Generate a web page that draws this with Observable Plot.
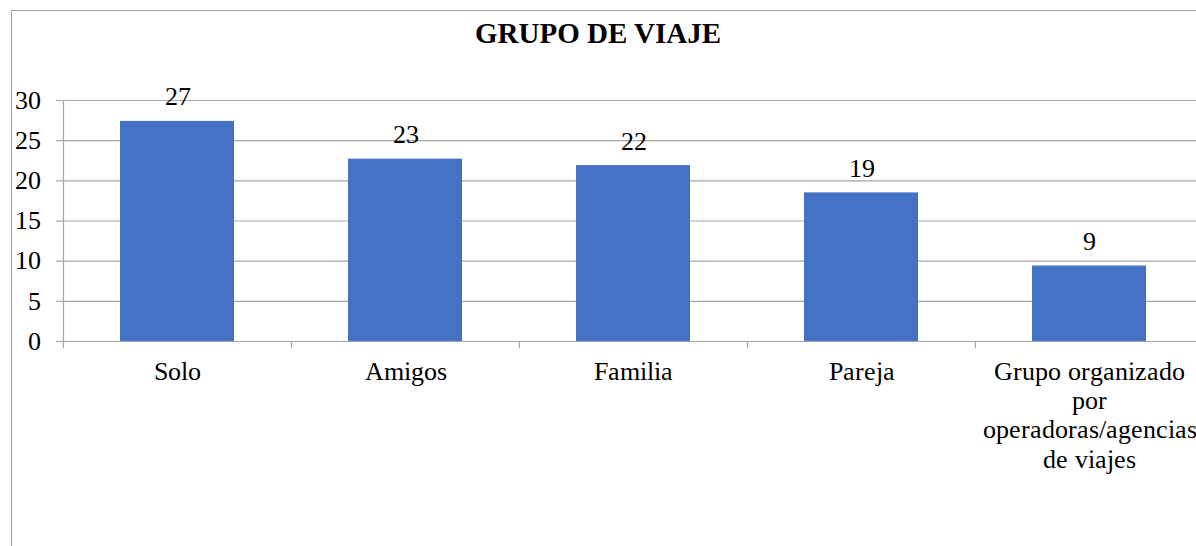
<!DOCTYPE html>
<html>
<head>
<meta charset="utf-8">
<script src="https://cdn.jsdelivr.net/npm/d3@7"></script>
<script src="https://cdn.jsdelivr.net/npm/@observablehq/plot@0.6"></script>
<style>
  @font-face { font-family: "ChartSerif"; src: local("Liberation Serif"), local("LiberationSerif"), local("Liberation Serif Regular"), local("LiberationSerif-Regular"); font-weight: normal; font-style: normal; }
  html, body { margin: 0; padding: 0; background: #fff; overflow: hidden; }
  #wrap { position: relative; width: 1196px; height: 546px; overflow: hidden; background: #fff; }
  #chart { position: absolute; left: 0; top: 0; font-family: "ChartSerif", "Liberation Serif", serif; }
  #chart svg text, #chart svg tspan { font-family: "ChartSerif", "Liberation Serif", serif !important; }
  #frame { position: absolute; left: 11px; top: 10px; width: 1400px; height: 800px;
           border-top: 1.5px solid #a0a0a0; border-left: 1.5px solid #a0a0a0; pointer-events: none; }
  #title { position: absolute; left: 0; top: 19px; width: 1196px; text-align: center;
           font-family: "Liberation Serif", serif; font-weight: bold;
           font-size: 29px; line-height: 1; color: #000; }
</style>
</head>
<body>
<div id="wrap">
  <div id="chart"></div>
  <div id="frame"></div>
  <div id="title">GRUPO DE VIAJE</div>
</div>
<script>
const categories = ["Solo", "Amigos", "Familia", "Pareja", "Grupo organizado\npor\noperadoras/agencias\nde viajes"];
const values = [27.4, 22.7, 21.9, 18.5, 9.4];
const valueLabels = ["27", "23", "22", "19", "9"];
const yTicks = [0, 5, 10, 15, 20, 25, 30];

const rows = categories.map((c, i) => ({grupo: c, valor: values[i], etiqueta: valueLabels[i]}));

const W = 1203, ML = 63, MR = 0;
const step = (W - ML - MR) / categories.length;
const gray = "#a6a6a6";
const font = "ChartSerif";

function draw() {
  const chart = Plot.plot({
    width: W,
    height: 546,
    marginLeft: ML,
    marginRight: MR,
    marginTop: 100,
    marginBottom: 205,
    style: "max-width:none;background:none;color:#000;",
    x: {domain: categories, paddingInner: 0.5, paddingOuter: 0.25},
    y: {domain: [0, 30]},
    marks: [
      Plot.gridY(yTicks, {stroke: gray, strokeOpacity: 1, strokeWidth: 1.2}),
      Plot.barY(rows, {x: "grupo", y: "valor", fill: "#4472C4"}),
      Plot.ruleY([0], {stroke: gray, strokeWidth: 1.2}),
      Plot.ruleX([categories[0]], {dx: -step / 2, stroke: gray, strokeWidth: 1.2}),
      Plot.ruleX(categories, {x: d => d, y1: 0, y2: 0, insetBottom: -7, dx: -step / 2, stroke: gray, strokeWidth: 1.2}),
      Plot.axisY(yTicks, {tickSize: 7, tickPadding: 16, fontSize: 26, fontFamily: font, stroke: gray, strokeWidth: 1.2, fill: "#000", label: null}),
      Plot.axisX({tickSize: 0, tickPadding: 18, fontSize: 26, fontFamily: font, lineHeight: 1.12, fill: "#000", label: null}),
      Plot.text(rows, {x: "grupo", y: "valor", text: "etiqueta", lineAnchor: "bottom", dy: -16, fontSize: 26, fontFamily: font, fill: "#000"})
    ]
  });
  document.getElementById("chart").replaceChildren(chart);
}
draw();
if (document.fonts && document.fonts.load) {
  document.fonts.load('26px "ChartSerif"').then(draw).catch(() => {});
}
</script>
</body>
</html>
